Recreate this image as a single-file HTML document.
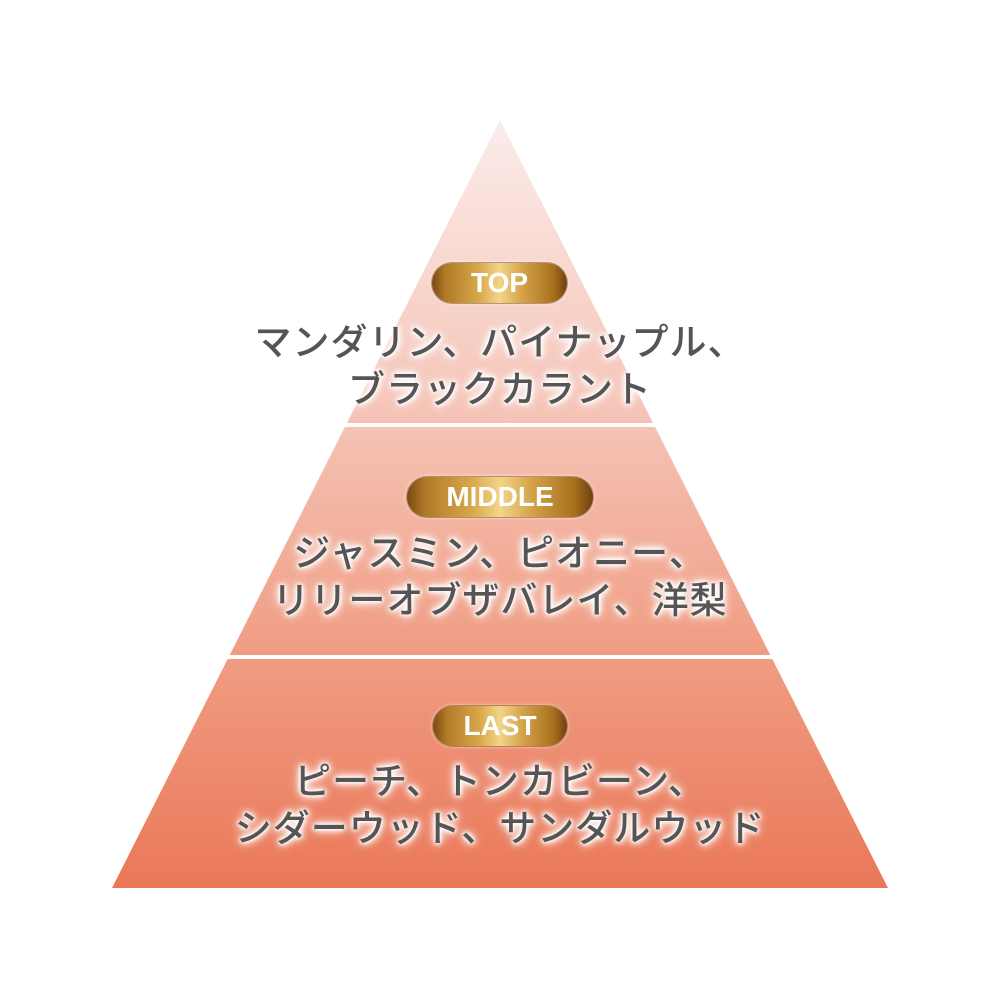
<!DOCTYPE html>
<html><head><meta charset="utf-8"><style>
html,body{margin:0;padding:0;background:#fff;}
.wrap{position:relative;width:1000px;height:1000px;overflow:hidden;}
svg{position:absolute;left:0;top:0;}
.badge{position:absolute;height:40px;border-radius:20px;color:#fff;font-family:"Liberation Sans","Noto Sans CJK JP",sans-serif;font-weight:bold;font-size:28px;line-height:40px;text-align:center;
background:linear-gradient(90deg,#7a4a12 0%,#b07a28 10%,#d9a84a 35%,#f3d58a 50%,#d2a046 68%,#a8701e 90%,#6e4010 100%);box-shadow:0 0 0 1px rgba(120,70,20,.5),0 0 4px rgba(255,255,255,.9);}
.txt{position:absolute;left:0;width:1000px;text-align:center;font-family:"Noto Sans CJK JP",sans-serif;font-weight:500;font-size:37px;line-height:47px;color:#555;letter-spacing:1px;
text-shadow:0 0 3px #fff,0 0 5px #fff,0 0 7px #fff,0 0 9px #fff,0 0 12px #fff;}
</style></head><body><div class="wrap">
<svg width="1000" height="1000">
<defs><linearGradient id="g" x1="0" y1="120" x2="0" y2="888" gradientUnits="userSpaceOnUse">
<stop offset="0" stop-color="#fbecea"/><stop offset="0.4" stop-color="#f5c2b4"/><stop offset="0.7" stop-color="#f09c82"/><stop offset="1" stop-color="#ea7858"/></linearGradient></defs>
<polygon points="500,120 888,888 112,888" fill="url(#g)"/>
<rect x="0" y="423" width="1000" height="4" fill="#fff"/>
<rect x="0" y="655" width="1000" height="4" fill="#fff"/>
</svg>
<div class="badge" style="left:432px;top:263px;width:135px;">TOP</div>
<div class="txt" style="top:316px;">マンダリン、パイナップル、<br>ブラックカラント</div>
<div class="badge" style="left:407px;top:477px;width:186px;">MIDDLE</div>
<div class="txt" style="top:527px;">ジャスミン、ピオニー、<br>リリーオブザバレイ、洋梨</div>
<div class="badge" style="left:433px;top:706px;width:134px;">LAST</div>
<div class="txt" style="top:755px;">ピーチ、トンカビーン、<br>シダーウッド、サンダルウッド</div>
</div></body></html>
